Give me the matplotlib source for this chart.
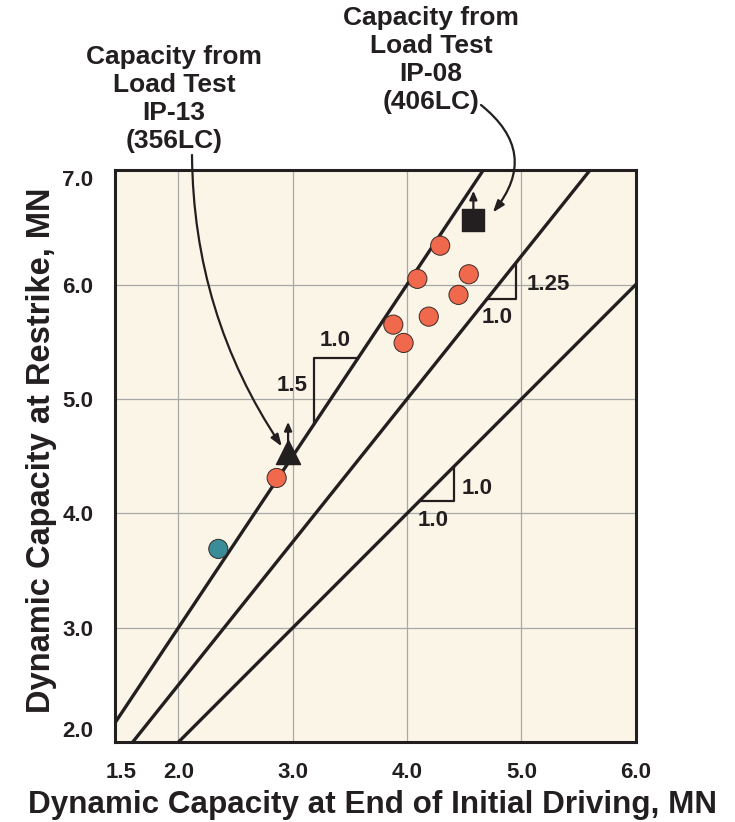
import matplotlib

matplotlib.use("Agg")
import matplotlib.pyplot as plt
import numpy as np

# Dynamic capacity: end of initial driving (x) vs restrike (y), MN
eoid_cap = [2.35, 2.86, 3.88, 3.97, 4.09, 4.19, 4.29, 4.45, 4.54]
restrike_cap = [3.69, 4.31, 5.65, 5.49, 6.05, 5.72, 6.34, 5.91, 6.09]
point_colors = ["#3A8C99"] + ["#F0694C"] * 8

# Static load test results (lower bounds, hence the up arrows)
lt_ip13 = (2.96, 4.54)
lt_ip08 = (4.58, 6.56)

# Reference ratios restrike / EOID
ratios = [1.5, 1.25, 1.0]

x_ticks = [1.5, 2.0, 3.0, 4.0, 5.0, 6.0]
y_ticks = [2.0, 3.0, 4.0, 5.0, 6.0, 7.0]

BOLD = "Liberation Sans"
NARROW = ["Liberation Sans Narrow", "Liberation Sans", "DejaVu Sans"]
INK = "#231F20"

fig = plt.figure(figsize=(7.35, 8.22), dpi=100)
ax = fig.add_axes([0.157, 0.097, 0.708, 0.696])
ax.set_facecolor("#FBF5E8")
ax.set_xlim(1.45, 6.0)
ax.set_ylim(2.0, 7.0)

# light grid at whole units
for gx in [2.0, 3.0, 4.0, 5.0]:
    ax.axvline(gx, color="#A8A8A8", lw=0.9, zorder=1)
for gy in [3.0, 4.0, 5.0, 6.0]:
    ax.axhline(gy, color="#A8A8A8", lw=0.9, zorder=1)

# ratio lines
xx = np.linspace(1.3, 6.2, 50)
for r in ratios:
    ax.plot(xx, r * xx, color=INK, lw=2.4, zorder=2, solid_capstyle="butt")


def slope_triangle(x_leg, r, y_corner):
    # right-angle corner at (x_leg, y_corner); both legs end on y = r*x
    ax.plot([y_corner / r, x_leg, x_leg], [y_corner, y_corner, r * x_leg],
            color=INK, lw=1.6, zorder=2)


# 1.5 triangle sits above the line, the other two below
ax.plot([3.19, 3.19, 5.36 / 1.5], [1.5 * 3.19, 5.36, 5.36],
        color=INK, lw=1.6, zorder=2)
slope_triangle(4.95, 1.25, 5.87)
slope_triangle(4.41, 1.0, 4.11)

lab = dict(fontsize=16, fontweight="bold", family=BOLD, color=INK, zorder=5)
ax.text(3.37, 5.42, "1.0", ha="center", va="bottom", **lab)
ax.text(3.13, 5.12, "1.5", ha="right", va="center", **lab)
ax.text(5.05, 6.0, "1.25", ha="left", va="center", **lab)
ax.text(4.79, 5.8, "1.0", ha="center", va="top", **lab)
ax.text(4.48, 4.22, "1.0", ha="left", va="center", **lab)
ax.text(4.23, 4.03, "1.0", ha="center", va="top", **lab)

# data points
ax.scatter(eoid_cap, restrike_cap, s=190, c=point_colors,
           edgecolors="#3A2A25", linewidths=0.7, zorder=4)

# load-test markers with "greater than" arrows
ax.scatter([lt_ip13[0]], [lt_ip13[1]], marker="^", s=300, c=INK, zorder=4)
ax.scatter([lt_ip08[0]], [lt_ip08[1]], marker="s", s=230, c=INK, zorder=4)
for px, py in [lt_ip13, lt_ip08]:
    ax.annotate("", xy=(px, py + 0.26), xytext=(px, py),
                arrowprops=dict(arrowstyle="-|>,head_length=0.5,head_width=0.22",
                                color=INK, lw=1.6, shrinkA=0, shrinkB=0),
                zorder=4)

# callouts
note = dict(fontsize=19, fontweight="bold", family=NARROW, color=INK,
            ha="center", va="center", linespacing=1.22)
fig.text(174 / 735, 1 - 99 / 822, "Capacity from\nLoad Test\nIP-13\n(356LC)", **note)
fig.text(431 / 735, 1 - 60 / 822, "Capacity from\nLoad Test\nIP-08\n(406LC)", **note)

ax.annotate("", xy=(2.905, 4.585), xycoords="data",
            xytext=(192 / 735, 1 - 155 / 822), textcoords="figure fraction",
            arrowprops=dict(arrowstyle="-|>,head_length=0.7,head_width=0.25",
                            connectionstyle="arc3,rad=0.15", color=INK, lw=1.6,
                            shrinkA=0, shrinkB=0),
            annotation_clip=False)
ax.annotate("", xy=(4.75, 6.63), xycoords="data",
            xytext=(481 / 735, 1 - 105 / 822), textcoords="figure fraction",
            arrowprops=dict(arrowstyle="-|>,head_length=0.7,head_width=0.25",
                            connectionstyle="arc3,rad=-0.5", color=INK, lw=1.6,
                            shrinkA=0, shrinkB=0),
            annotation_clip=False)

# axes frame and ticks
for s in ax.spines.values():
    s.set_linewidth(2.2)
    s.set_color(INK)
    s.set_zorder(6)

ax.set_xticks(x_ticks)
ax.set_xticklabels([f"{v:.1f}" for v in x_ticks])
ax.set_yticks(y_ticks)
ax.set_yticklabels([f"{v:.1f}" for v in y_ticks])
ax.tick_params(which="major", length=0, labelsize=16, labelcolor=INK)
ax.tick_params(axis="x", which="major", pad=14)
ax.tick_params(axis="y", which="major", pad=16)
ax.set_xticks([2.0, 3.0, 4.0, 5.0], minor=True)
ax.set_yticks([3.0, 4.0, 5.0, 6.0], minor=True)
ax.tick_params(which="minor", direction="in", length=16, width=2.2, color=INK,
               top=True, right=True, bottom=True, left=True)
for t in ax.get_xticklabels() + ax.get_yticklabels():
    t.set_fontweight("bold")
    t.set_family(BOLD)
ylabels = ax.get_yticklabels()
ylabels[0].set_va("bottom")
ylabels[-1].set_va("top")

ax.set_xlabel("Dynamic Capacity at End of Initial Driving, MN", fontsize=22.6,
              fontweight="bold", family=BOLD, color=INK)
ax.set_ylabel("Dynamic Capacity at Restrike, MN", fontsize=23.5,
              fontweight="bold", family=BOLD, color=INK)
ax.xaxis.set_label_coords(0.494, -0.083)
ax.yaxis.set_label_coords(-0.112, 0.51)

fig.savefig("out.png", dpi=100)
